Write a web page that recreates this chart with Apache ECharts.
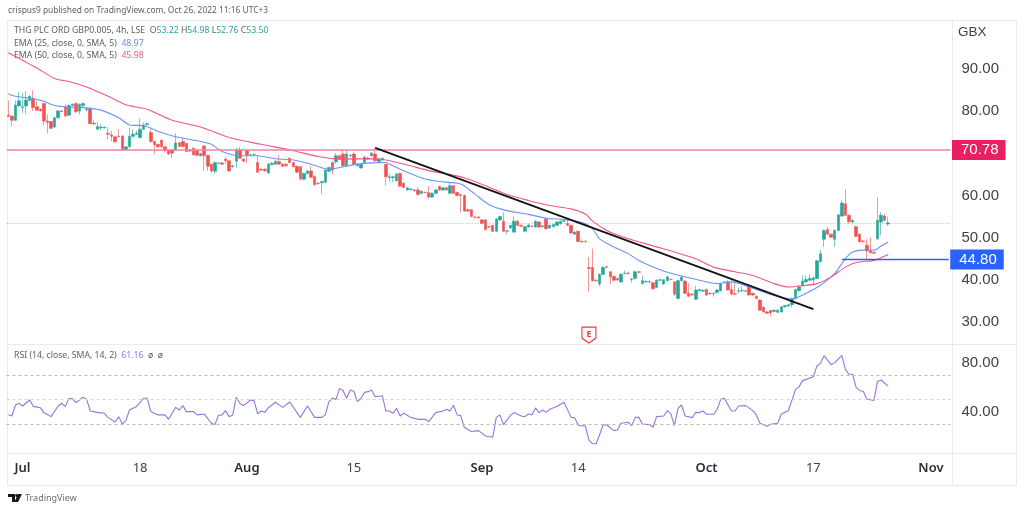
<!DOCTYPE html>
<html>
<head>
<meta charset="utf-8">
<title>THG PLC 4h</title>
<style>
  html, body { margin: 0; padding: 0; background: #fff; }
  #chart { width: 1024px; height: 511px; }
</style>
<script src="https://cdn.jsdelivr.net/npm/echarts@6/dist/echarts.min.js"></script>
</head>
<body>
<div id="chart"></div>
<script>
// one slot per 4h bar, three bars per trading day
var BAR_SLOTS = 265;
var tickIndex = [4, 37, 67, 97, 133, 160, 196, 226, 259];
var tickNames = ['Jul', '18', 'Aug', '15', 'Sep', '14', 'Oct', '17', 'Nov'];
var monthNames = ['Jul', 'Aug', 'Sep', 'Oct', 'Nov'];
var priceTicks = [30, 40, 50, 60, 80, 90];
var rsiTicks = [40, 80];
var rsiLevels = [70, 50, 30];

var resistanceLevel = 70.78;
var supportLevel = 44.8;
var supportStartBar = 234;
var lastClose = 53.5;
var earningsBar = 163;
var trendStart = [103, 71.27];
var trendEnd = [226, 33.07];

// [open, close, low, high]
var candleValues = [
  [79.0,78.7,78.7,82.5],[78.8,77.8,76.3,78.9],[77.8,81.4,77.6,82.5],[81.2,82.4,81.0,84.6],[80.8,81.0,79.5,84.3],
  [81.2,82.6,79.2,84.7],[82.5,83.5,82.3,83.7],[83.0,80.8,80.0,84.9],[81.0,80.2,80.0,82.4],[80.4,80.0,79.9,80.6],
  [81.8,77.6,76.7,81.9],[77.6,77.3,74.7,79.2],[77.5,75.9,75.7,77.6],[76.2,78.4,76.0,78.6],[78.4,80.0,78.2,80.2],
  [80.0,79.9,79.7,80.2],[81.0,78.8,78.6,81.6],[79.0,81.3,78.8,81.6],[81.3,81.6,81.1,81.8],[81.8,79.8,79.6,82.0],
  [80.0,81.6,79.2,81.8],[81.3,81.8,80.8,82.0],[80.3,80.5,79.9,80.8],[80.5,77.0,76.9,80.6],[77.1,76.9,76.7,77.8],
  [75.7,76.3,75.4,77.5],[76.0,76.2,75.4,76.9],[76.0,76.2,75.9,76.3],[74.7,74.5,73.3,76.2],[74.3,74.0,72.8,75.3],
  [73.9,72.7,72.5,74.0],[74.0,73.9,73.7,75.7],[74.1,70.8,70.6,74.2],[70.8,71.5,70.6,71.6],[71.5,74.0,71.4,76.1],
  [74.0,74.5,73.7,75.7],[74.5,74.7,74.3,75.3],[73.7,75.7,73.5,78.2],[75.7,76.7,75.5,77.3],[76.8,77.0,76.5,77.3],
  [74.9,72.8,72.5,76.1],[72.8,72.0,69.8,72.9],[72.1,71.5,71.3,72.2],[73.1,71.5,71.3,73.2],[71.5,70.6,70.2,71.6],
  [70.7,69.8,69.6,70.9],[70.8,70.0,68.8,71.0],[70.7,72.4,70.5,74.7],[72.5,71.6,71.4,72.6],[72.8,71.6,71.4,73.7],
  [72.3,70.4,70.2,72.5],[70.6,70.5,70.2,71.0],[71.2,69.6,69.4,71.4],[70.7,69.5,69.3,70.9],[69.4,69.9,69.2,70.1],
  [71.7,69.4,65.8,71.8],[69.5,66.9,65.8,69.6],[67.4,65.8,65.3,67.5],[65.7,67.8,65.1,68.0],[67.6,67.7,67.4,67.9],
  [67.7,67.4,67.2,67.9],[68.6,68.2,67.5,69.0],[68.2,65.8,65.6,68.3],[66.8,67.0,66.6,67.2],[68.1,70.8,66.5,71.3],
  [70.8,68.8,68.6,71.5],[68.6,68.1,67.9,68.8],[70.6,69.5,67.7,70.8],[69.6,69.6,69.3,69.8],[69.7,69.7,69.5,69.9],
  [67.8,65.5,65.3,69.5],[66.2,66.0,65.8,66.4],[66.2,65.8,65.6,66.4],[65.3,67.4,65.1,67.7],[67.3,67.6,67.1,67.9],
  [67.4,68.1,67.2,68.3],[68.0,67.4,67.2,69.5],[67.4,66.9,66.7,67.7],[67.4,67.0,66.8,67.6],[68.8,67.8,67.6,69.0],
  [67.8,66.8,66.6,68.0],[66.9,65.5,65.3,67.0],[66.8,63.9,63.6,66.9],[63.8,65.2,63.6,65.4],[65.2,65.8,65.0,66.0],
  [65.8,64.3,64.1,66.9],[64.5,62.5,62.2,64.7],[62.9,62.8,62.5,63.2],[63.0,63.3,60.3,63.5],[63.1,66.0,62.9,66.2],
  [65.7,66.6,65.5,66.8],[67.8,66.0,65.0,68.0],[68.0,69.4,67.5,70.0],[69.4,68.6,68.4,69.7],[69.8,67.0,66.8,70.7],
  [67.0,69.8,66.8,70.7],[69.4,69.5,69.0,69.8],[69.8,67.4,67.2,70.2],[67.0,67.4,66.8,67.6],[66.5,67.4,66.3,67.5],
  [67.8,69.1,67.6,69.3],[68.8,68.6,68.3,69.2],[69.4,70.0,69.2,70.3],[69.8,68.2,68.0,71.2],[68.0,68.6,67.8,68.8],
  [68.4,68.8,68.2,69.0],[67.4,64.4,62.3,67.5],[64.2,64.4,63.3,65.1],[64.2,64.4,63.1,64.7],[63.5,65.1,63.3,65.3],
  [65.2,62.2,62.0,65.4],[62.9,61.9,61.7,63.1],[61.3,61.8,61.1,62.0],[61.4,61.5,61.2,61.7],[61.3,61.1,60.9,61.5],
  [61.3,60.2,60.0,61.9],[60.5,61.0,60.3,61.2],[60.7,60.7,60.5,60.9],[60.7,59.6,59.2,62.2],[59.6,60.5,59.4,60.7],
  [60.5,61.3,60.3,61.5],[62.1,61.3,61.1,62.3],[61.3,61.8,61.1,62.0],[61.8,61.3,61.1,62.0],[60.5,62.3,60.3,63.1],
  [62.3,60.5,60.3,62.4],[60.7,60.0,59.8,60.9],[60.2,60.0,56.0,60.4],[60.0,56.3,56.1,60.2],[56.6,56.3,56.0,56.9],
  [56.6,55.0,54.8,56.8],[54.8,54.8,54.5,55.1],[54.9,54.7,54.5,55.1],[54.2,53.4,53.2,54.4],[54.2,51.9,51.7,54.4],
  [52.6,52.5,52.3,52.8],[52.9,51.5,51.3,53.0],[51.5,54.4,51.3,54.6],[54.2,55.0,54.0,55.2],[53.9,51.5,51.3,56.0],
  [51.5,51.6,50.8,51.8],[52.3,52.9,52.1,53.0],[51.3,53.9,51.1,55.0],[53.9,52.9,52.7,54.2],[52.9,52.7,52.5,53.1],
  [51.5,52.6,51.3,52.8],[52.5,53.0,52.3,53.2],[52.7,52.7,52.5,52.9],[52.5,53.9,52.3,54.1],[53.7,52.5,52.3,53.9],
  [52.6,52.8,52.4,53.0],[54.4,52.1,51.9,54.6],[52.3,52.9,52.1,53.1],[52.6,53.1,52.4,53.3],[52.9,53.7,52.7,53.9],
  [53.3,53.9,53.1,54.1],[53.9,54.0,53.7,54.4],[53.4,52.9,52.7,54.4],[52.9,51.1,50.9,53.0],[50.8,51.3,50.6,51.5],
  [51.5,49.1,48.9,51.7],[49.1,49.0,48.8,49.6],[49.1,49.0,48.8,49.4],[42.9,42.7,37.2,45.4],[42.9,39.8,39.6,47.4],
  [39.9,39.8,39.5,40.1],[39.0,41.3,38.5,41.5],[41.3,42.9,41.1,43.2],[43.1,43.0,42.7,43.3],[41.9,40.7,39.0,42.0],
  [40.8,39.9,39.7,41.0],[40.3,40.0,39.7,40.5],[39.5,41.3,39.3,41.5],[41.5,41.6,41.3,42.2],[41.6,41.5,41.2,41.8],
  [40.1,40.2,39.3,40.5],[40.3,41.9,40.1,42.2],[41.9,41.8,41.5,42.0],[39.1,39.8,38.9,41.0],[39.5,39.6,39.2,39.9],
  [39.5,39.6,39.2,39.9],[39.3,37.9,37.6,39.5],[38.2,39.9,38.0,40.1],[39.9,40.0,39.7,40.2],[39.0,40.0,38.8,40.2],
  [39.8,40.7,39.6,40.9],[40.1,40.1,39.9,40.3],[39.5,36.6,36.2,39.7],[35.6,39.8,35.4,40.0],[39.8,40.6,39.6,40.8],
  [39.7,36.8,36.6,39.9],[36.8,36.1,35.9,39.2],[36.6,36.4,36.2,36.8],[35.4,37.6,35.2,38.5],[37.4,37.7,37.2,37.9],
  [37.3,37.5,37.1,37.7],[37.7,36.4,36.2,37.9],[36.8,36.7,36.5,37.0],[36.7,36.8,36.0,37.0],[37.0,37.6,36.8,37.8],
  [37.4,39.1,37.2,39.3],[39.4,39.5,39.2,39.8],[39.5,37.6,37.4,40.0],[37.7,36.6,36.4,39.9],[36.7,36.6,36.4,39.9],
  [37.3,37.4,36.8,38.2],[37.4,37.5,37.1,38.5],[37.4,37.3,37.1,37.6],[38.3,36.4,36.2,38.5],[36.8,36.4,36.2,37.0],
  [36.1,35.6,35.4,36.3],[35.2,32.8,32.6,35.4],[33.5,32.4,32.2,33.7],[32.4,32.1,31.9,32.6],[32.7,32.2,31.3,32.9],
  [32.5,32.8,32.3,33.0],[32.3,32.8,32.1,33.0],[32.4,33.6,32.2,33.8],[33.6,33.9,33.4,34.1],[33.8,34.1,33.6,34.3],
  [34.1,35.6,33.5,35.8],[35.6,37.7,35.4,37.9],[37.4,38.3,37.2,38.8],[38.6,39.7,38.4,41.0],[39.5,40.1,39.3,41.1],
  [39.9,40.3,39.7,41.3],[40.0,40.5,38.6,40.7],[40.3,44.5,40.1,44.7],[44.3,46.2,44.1,47.1],[49.6,51.7,47.8,51.9],
  [51.9,50.8,50.6,52.6],[50.8,50.1,49.9,51.0],[49.6,51.7,47.8,52.0],[51.7,55.4,51.5,55.6],[55.1,58.2,55.0,58.8],
  [58.0,55.3,55.1,61.5],[55.3,53.8,53.3,55.5],[53.7,54.1,53.4,54.3],[52.6,50.3,50.1,52.8],[50.8,49.0,48.8,51.0],
  [49.2,49.1,48.9,49.4],[48.2,46.8,44.5,49.6],[47.0,46.4,46.2,50.1],[46.5,46.3,46.1,46.7],[49.7,54.1,49.5,59.6],
  [53.7,55.3,50.5,56.0],[55.1,54.1,53.9,55.6],[53.22,53.5,52.76,54.98]
];

// [bar, value] at the line's bends
var ema25Points = [
  [0,84.1],[2,83.5],[7,82.9],[10,82.3],[13,81.3],[17,80.9],[21,80.8],[26,80.2],[31,78.4],[34,76.7],[38,76.5],
  [43,74.9],[47,73.9],[52,73.1],[57,72.1],[60,70.4],[65,69.4],[70,69.4],[75,68.7],[80,68.4],[85,67.4],[90,66.2],
  [93,66.6],[98,67.4],[102,67.7],[106,67.8],[108,67.0],[112,65.5],[117,63.9],[121,63.3],[127,62.7],[131,60.3],
  [135,57.8],[140,56.4],[146,55.5],[151,54.6],[157,54.2],[162,53.3],[164,52.1],[166,49.7],[170,47.8],[174,46.2],
  [177,44.6],[182,42.7],[187,41.3],[192,40.3],[199,39.1],[203,39.5],[208,38.3],[213,36.8],[220,35.4],[224,36.8],
  [228,38.7],[232,41.5],[235,45.0],[237,46.6],[241,47.1],[243,47.0],[245,48.0],[247,48.97]
];
var ema50Points = [
  [0,93.8],[4,92.0],[8,90.2],[13,87.7],[17,87.0],[22,85.7],[28,83.5],[33,81.5],[39,80.4],[46,77.8],[54,76.2],
  [62,73.7],[71,72.1],[80,70.6],[87,69.2],[93,68.6],[103,68.7],[106,68.4],[112,67.2],[119,65.7],[125,64.8],
  [129,63.9],[134,62.3],[140,60.2],[146,58.8],[152,57.6],[158,56.8],[162,55.6],[164,53.9],[168,51.7],[173,50.0],
  [177,49.0],[182,47.8],[187,46.6],[193,45.0],[198,43.0],[204,41.9],[209,41.0],[215,39.1],[219,38.3],[223,38.6],
  [227,39.1],[231,40.7],[235,43.0],[238,44.1],[243,44.6],[245,45.2],[247,45.98]
];
var rsiPoints = [
  [0,37.8],[1,36.7],[2,45.7],[3,47.1],[4,44.9],[6,49.8],[7,44.6],[9,43.5],[10,39.5],[12,36.2],[14,44.9],[15,47.1],
  [16,44.4],[17,50.9],[18,50.9],[19,47.6],[21,52.0],[22,50.3],[23,40.8],[25,39.7],[27,38.9],[28,35.6],[30,31.8],
  [31,36.2],[32,30.2],[33,32.7],[34,41.6],[36,44.4],[38,51.2],[39,51.2],[40,40.3],[42,37.6],[44,37.6],[45,34.0],
  [47,43.8],[48,41.6],[49,45.2],[50,40.3],[52,40.3],[53,37.6],[55,38.4],[57,30.8],[58,29.7],[59,37.3],[60,37.6],
  [61,41.1],[62,36.2],[63,37.6],[64,52.0],[65,47.1],[66,45.2],[68,49.8],[69,49.3],[70,38.4],[71,40.8],[72,39.7],
  [73,43.5],[75,47.9],[77,43.8],[79,48.2],[82,35.6],[84,44.9],[86,35.6],[88,35.6],[89,37.6],[90,48.4],[91,51.2],
  [92,50.3],[93,59.3],[94,57.4],[95,51.2],[96,58.0],[97,56.9],[98,48.4],[99,51.2],[100,56.0],[101,56.6],[102,58.0],
  [103,52.5],[105,53.3],[106,40.8],[107,40.8],[108,38.9],[109,43.0],[110,36.7],[111,38.9],[113,35.6],[115,34.0],
  [117,34.0],[118,32.1],[120,39.5],[122,40.8],[123,42.2],[124,40.8],[125,45.5],[126,37.6],[127,37.0],[128,27.5],
  [130,24.0],[132,24.8],[134,20.4],[136,19.3],[137,35.6],[138,37.6],[139,29.7],[140,33.5],[141,37.3],[142,39.5],
  [144,36.7],[145,36.2],[146,38.4],[147,37.8],[148,43.3],[149,39.5],[150,41.6],[151,39.7],[152,42.2],[154,44.4],
  [156,47.9],[158,35.6],[159,35.4],[160,28.9],[162,28.6],[163,17.1],[164,14.2],[165,13.9],[167,29.4],[168,29.4],
  [170,24.8],[171,25.3],[172,30.8],[174,31.6],[175,28.8],[176,35.6],[177,35.6],[178,30.2],[180,29.7],[181,27.5],
  [182,36.2],[184,36.7],[185,41.1],[186,38.4],[187,28.9],[188,43.0],[189,45.7],[190,36.7],[192,35.4],[193,39.7],
  [194,39.5],[195,40.8],[196,38.1],[198,38.1],[199,42.2],[200,50.3],[201,51.2],[203,40.8],[204,40.8],[205,44.9],
  [207,45.2],[209,41.1],[210,37.6],[211,30.8],[213,28.3],[214,30.0],[216,30.8],[217,38.4],[219,41.1],[221,58.5],
  [222,60.7],[223,65.6],[226,68.8],[227,77.6],[228,79.7],[229,86.0],[231,78.6],[232,80.3],[234,86.3],[235,74.8],
  [236,70.8],[237,70.8],[238,60.1],[239,57.4],[240,56.9],[241,50.6],[243,49.5],[244,64.8],[245,66.1],[247,61.16]
];

// the axis shows a label only where a category has a name
var categories = [];
for (var s = 0; s < BAR_SLOTS; s++) categories.push('');
tickIndex.forEach(function(idx, n) { categories[idx] = tickNames[n]; });

var SANS = '"Noto Sans", "Open Sans", sans-serif';
var AXIS_FONT = '"Liberation Sans", Arial, sans-serif';
var UP = '#26a69a';
var DOWN = '#ef5350';
var PINK = '#e91e63';
var BLUE = '#2962ff';
var FRAME = '#e9eaee';
var TEXT = '#3f424b';
var LEGEND = '#5b5e67';
var LEGEND_SIZE = 8.7;

function badge(color, value) {
  return {
    show: true,
    position: 'end',
    distance: 1.5,
    formatter: value.toFixed(2),
    color: '#fff',
    fontFamily: AXIS_FONT,
    fontSize: 15,
    backgroundColor: color,
    padding: [3, 7, 3, 9],
    lineHeight: 14
  };
}

function frameLine(x1, y1, x2, y2) {
  return {
    type: 'line',
    silent: true,
    shape: { x1: x1, y1: y1, x2: x2, y2: y2 },
    style: { stroke: FRAME, lineWidth: 1 }
  };
}

function label(x, y, text, rich, size) {
  return {
    type: 'text',
    silent: true,
    x: x,
    y: y,
    style: {
      text: text,
      rich: rich,
      fill: LEGEND,
      font: (size || LEGEND_SIZE) + 'px ' + SANS,
      verticalAlign: 'middle'
    }
  };
}

function legendStyle(color) {
  return { fill: color, fontFamily: SANS, fontSize: LEGEND_SIZE };
}

function priceAxisLabel(ticks) {
  return {
    customValues: ticks,
    margin: 11,
    padding: [2, 0, 0, 0],
    formatter: function(v) { return v.toFixed(2); },
    fontFamily: AXIS_FONT,
    fontSize: 15,
    color: TEXT
  };
}

var legendRich = {
  t: legendStyle(LEGEND),
  g: legendStyle(UP),
  b: legendStyle('#5d8bf9'),
  r: legendStyle('#f0568a'),
  p: legendStyle('#9575dc')
};

var chart = echarts.init(document.getElementById('chart'), null, { renderer: 'canvas' });

chart.setOption({
  animation: false,
  backgroundColor: '#fff',
  grid: [
    { left: 6.5, top: 20, width: 944, height: 324 },
    { left: 6.5, top: 345, width: 944, height: 108 }
  ],
  xAxis: [
    { type: 'category', gridIndex: 0, data: categories, show: false },
    {
      type: 'category',
      gridIndex: 1,
      data: categories,
      axisLine: { show: false },
      axisTick: { show: false },
      axisLabel: {
        margin: 9,
        interval: function(i, name) { return name !== ''; },
        hideOverlap: false,
        fontFamily: SANS,
        fontSize: 13,
        color: TEXT,
        formatter: function(name) {
          return monthNames.indexOf(name) >= 0 ? '{m|' + name + '}' : name;
        },
        rich: { m: { fontFamily: SANS, fontSize: 13, fontWeight: 600, color: '#2a2e39' } }
      }
    }
  ],
  yAxis: [
    {
      type: 'value',
      gridIndex: 0,
      position: 'right',
      min: 24.79,
      max: 101.56,
      axisLine: { show: false },
      axisTick: { show: false },
      splitLine: { show: false },
      axisLabel: priceAxisLabel(priceTicks)
    },
    {
      type: 'value',
      gridIndex: 1,
      position: 'right',
      min: 6.5,
      max: 94.7,
      axisLine: { show: false },
      axisTick: { show: false },
      splitLine: { show: false },
      axisLabel: priceAxisLabel(rsiTicks)
    }
  ],
  series: [
    {
      name: 'THG',
      type: 'candlestick',
      xAxisIndex: 0,
      yAxisIndex: 0,
      data: candleValues,
      barWidth: 3,
      itemStyle: { color: UP, color0: DOWN, borderColor: UP, borderColor0: DOWN, borderWidth: 0.6 },
      markLine: {
        silent: true,
        symbol: 'none',
        animation: false,
        data: [
          {
            yAxis: lastClose,
            label: { show: false },
            lineStyle: { color: 'rgba(38,166,154,0.6)', type: [1, 2], width: 1 }
          },
          {
            yAxis: resistanceLevel,
            label: badge(PINK, resistanceLevel),
            lineStyle: { color: '#f77fa6', type: 'solid', width: 1.5 }
          },
          [
            {
              xAxis: supportStartBar,
              yAxis: supportLevel,
              label: badge(BLUE, supportLevel),
              lineStyle: { color: BLUE, type: 'solid', width: 1.3 }
            },
            { xAxis: BAR_SLOTS - 1, yAxis: supportLevel }
          ],
          [
            {
              coord: trendStart,
              label: { show: false },
              lineStyle: { color: '#131313', type: 'solid', width: 1.8 }
            },
            { coord: trendEnd }
          ]
        ]
      },
      markPoint: {
        silent: true,
        animation: false,
        data: [{
          coord: [earningsBar, 26.9],
          symbol: 'path://M1 1H15V12L8 17L1 12Z',
          symbolSize: [14, 16],
          itemStyle: { color: '#fff', borderColor: '#f23645', borderWidth: 1.2 },
          label: {
            show: true,
            formatter: 'E',
            color: '#f23645',
            fontFamily: SANS,
            fontWeight: 'bold',
            fontSize: 9,
            offset: [0, -1]
          }
        }]
      }
    },
    {
      name: 'EMA 25',
      type: 'line',
      xAxisIndex: 0,
      yAxisIndex: 0,
      data: ema25Points,
      showSymbol: false,
      smooth: 0.25,
      lineStyle: { color: '#6a95f8', width: 1.1 }
    },
    {
      name: 'EMA 50',
      type: 'line',
      xAxisIndex: 0,
      yAxisIndex: 0,
      data: ema50Points,
      showSymbol: false,
      smooth: 0.25,
      lineStyle: { color: '#f0568a', width: 1.1 }
    },
    {
      name: 'RSI',
      type: 'line',
      xAxisIndex: 1,
      yAxisIndex: 1,
      data: rsiPoints,
      showSymbol: false,
      lineStyle: { color: '#9575dc', width: 1.1 },
      markLine: {
        silent: true,
        symbol: 'none',
        animation: false,
        label: { show: false },
        data: rsiLevels.map(function(v) {
          return {
            yAxis: v,
            lineStyle: { color: v === 50 ? '#d5d5d8' : '#b8b8bd', type: [3, 3], width: 1 }
          };
        })
      }
    }
  ],
  graphic: [
    frameLine(7.5, 20.5, 1016.5, 20.5),
    frameLine(7.5, 344.5, 1016.5, 344.5),
    frameLine(7.5, 453.5, 1016.5, 453.5),
    frameLine(7.5, 485.5, 1016.5, 485.5),
    frameLine(7.5, 20.5, 7.5, 485.5),
    frameLine(952.5, 20.5, 952.5, 485.5),
    frameLine(1016.5, 20.5, 1016.5, 485.5),
    label(8, 11, 'crispus9 published on TradingView.com, Oct 26, 2022 11:16 UTC+3', null, 8.4),
    label(14, 31, '{t|THG PLC ORD GBP0.005, 4h, LSE}  {t|O}{g|53.22} {t|H}{g|54.98} {t|L}{g|52.76} {t|C}{g|53.50}', legendRich),
    label(14, 44, '{t|EMA (25, close, 0, SMA, 5)}  {b|48.97}', legendRich),
    label(14, 56, '{t|EMA (50, close, 0, SMA, 5)}  {r|45.98}', legendRich),
    label(14, 356, '{t|RSI (14, close, SMA, 14, 2)}  {p|61.16}  {t|ø}  {t|ø}', legendRich),
    {
      type: 'text',
      silent: true,
      x: 958,
      y: 32,
      style: { text: 'GBX', fill: TEXT, font: '13.5px ' + AXIS_FONT, verticalAlign: 'middle' }
    },
    // TradingView mark
    {
      type: 'polygon',
      silent: true,
      shape: { points: [[8, 494], [15, 494], [15, 502], [12, 502], [12, 497], [8, 497]] },
      style: { fill: '#131722' }
    },
    { type: 'circle', silent: true, shape: { cx: 16.7, cy: 495.5, r: 1.5 }, style: { fill: '#131722' } },
    {
      type: 'polygon',
      silent: true,
      shape: { points: [[18, 494], [22, 494], [18, 502], [14.5, 502]] },
      style: { fill: '#131722' }
    },
    {
      type: 'text',
      silent: true,
      x: 25,
      y: 498,
      style: { text: 'TradingView', fill: '#6a6d78', font: '9px ' + SANS, verticalAlign: 'middle' }
    }
  ]
});
</script>
</body>
</html>
